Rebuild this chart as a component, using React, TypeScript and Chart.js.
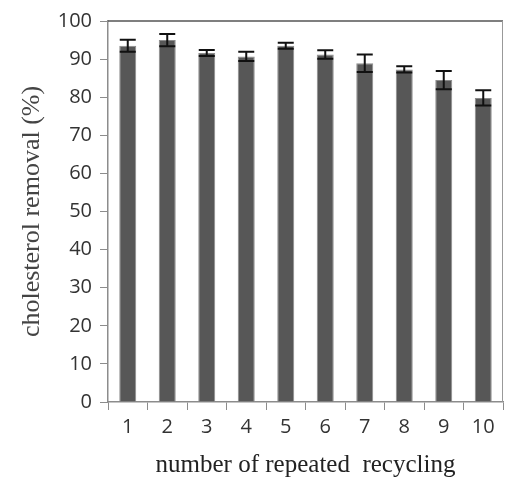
import React, { useEffect, useRef } from "react";
import { Chart, registerables } from "chart.js";

Chart.register(...registerables);

const categories = ["1", "2", "3", "4", "5", "6", "7", "8", "9", "10"];
const removal = [93.5, 95.0, 91.6, 90.7, 93.5, 91.2, 88.9, 87.3, 84.5, 79.8];
const errors = [1.6, 1.6, 0.8, 1.2, 0.8, 1.1, 2.3, 0.8, 2.4, 2.0];

const errorBarPlugin = {
  id: "errorBars",
  afterDatasetsDraw(chart: any) {
    const { ctx } = chart;
    const meta = chart.getDatasetMeta(0);
    const y = chart.scales.y;
    ctx.save();
    ctx.strokeStyle = "#111";
    ctx.lineWidth = 2;
    meta.data.forEach((bar: any, i: number) => {
      const x = bar.x;
      const top = y.getPixelForValue(removal[i] + errors[i]);
      const bot = y.getPixelForValue(removal[i] - errors[i]);
      const half = 8;
      ctx.beginPath();
      ctx.moveTo(x, top);
      ctx.lineTo(x, bot);
      ctx.moveTo(x - half, top);
      ctx.lineTo(x + half, top);
      ctx.moveTo(x - half, bot);
      ctx.lineTo(x + half, bot);
      ctx.stroke();
    });
    ctx.restore();
  },
};

const frameBorderPlugin = {
  id: "frameBorder",
  afterDraw(chart: any) {
    const { ctx, chartArea } = chart;
    ctx.save();
    ctx.lineWidth = 1.5;
    ctx.strokeStyle = "#555";
    ctx.beginPath();
    ctx.moveTo(chartArea.left, chartArea.top);
    ctx.lineTo(chartArea.right, chartArea.top);
    ctx.stroke();
    ctx.lineWidth = 1;
    ctx.strokeStyle = "#999";
    ctx.beginPath();
    ctx.moveTo(chartArea.right - 0.5, chartArea.top);
    ctx.lineTo(chartArea.right - 0.5, chartArea.bottom);
    ctx.stroke();
    ctx.restore();
  },
};

export default function App() {
  const ref = useRef<HTMLCanvasElement | null>(null);
  useEffect(() => {
    document.body.style.margin = "0";
    if (!ref.current) return;
    const chart = new Chart(ref.current, {
      type: "bar",
      data: {
        labels: categories,
        datasets: [
          {
            data: removal,
            backgroundColor: "#575757",
            borderColor: "#8c8c8c",
            borderWidth: 1,
            barPercentage: 0.43,
            categoryPercentage: 1,
          },
        ],
      },
      options: {
        animation: false,
        responsive: false,
        layout: { padding: { top: 21, right: 2, left: 0, bottom: 0 } },
        plugins: { legend: { display: false }, tooltip: { enabled: false } },
        scales: {
          x: {
            grid: {
              display: true,
              drawOnChartArea: false,
              offset: true,
              tickLength: 8,
              color: "#8c8c8c",
            },
            border: { color: "#8c8c8c", width: 1.5 },
            ticks: {
              color: "#333",
              font: { family: "Open Sans", size: 20 },
              padding: 5,
              maxRotation: 0,
            },
            title: {
              display: true,
              text: "number of repeated  recycling",
              color: "#222",
              font: { family: "Liberation Serif", size: 25 },
              padding: { top: 0, bottom: 0 },
            },
            afterFit(scale: any) {
              scale.height = 78;
            },
          },
          y: {
            min: 0,
            max: 100,
            ticks: {
              stepSize: 10,
              color: "#333",
              font: { family: "Open Sans", size: 20 },
              padding: 8,
            },
            grid: {
              display: true,
              drawOnChartArea: false,
              tickLength: 8,
              color: "#8c8c8c",
            },
            border: { color: "#8c8c8c", width: 1.5 },
            title: {
              display: true,
              text: "cholesterol removal (%)",
              color: "#444",
              font: { family: "Liberation Serif", size: 26 },
              padding: { top: 17, bottom: 17 },
            },
            afterFit(scale: any) {
              scale.width = 108;
            },
          },
        },
      },
      plugins: [errorBarPlugin, frameBorderPlugin],
    });
    return () => chart.destroy();
  }, []);
  return <canvas ref={ref} width={505} height={480} style={{ display: "block" }} />;
}
